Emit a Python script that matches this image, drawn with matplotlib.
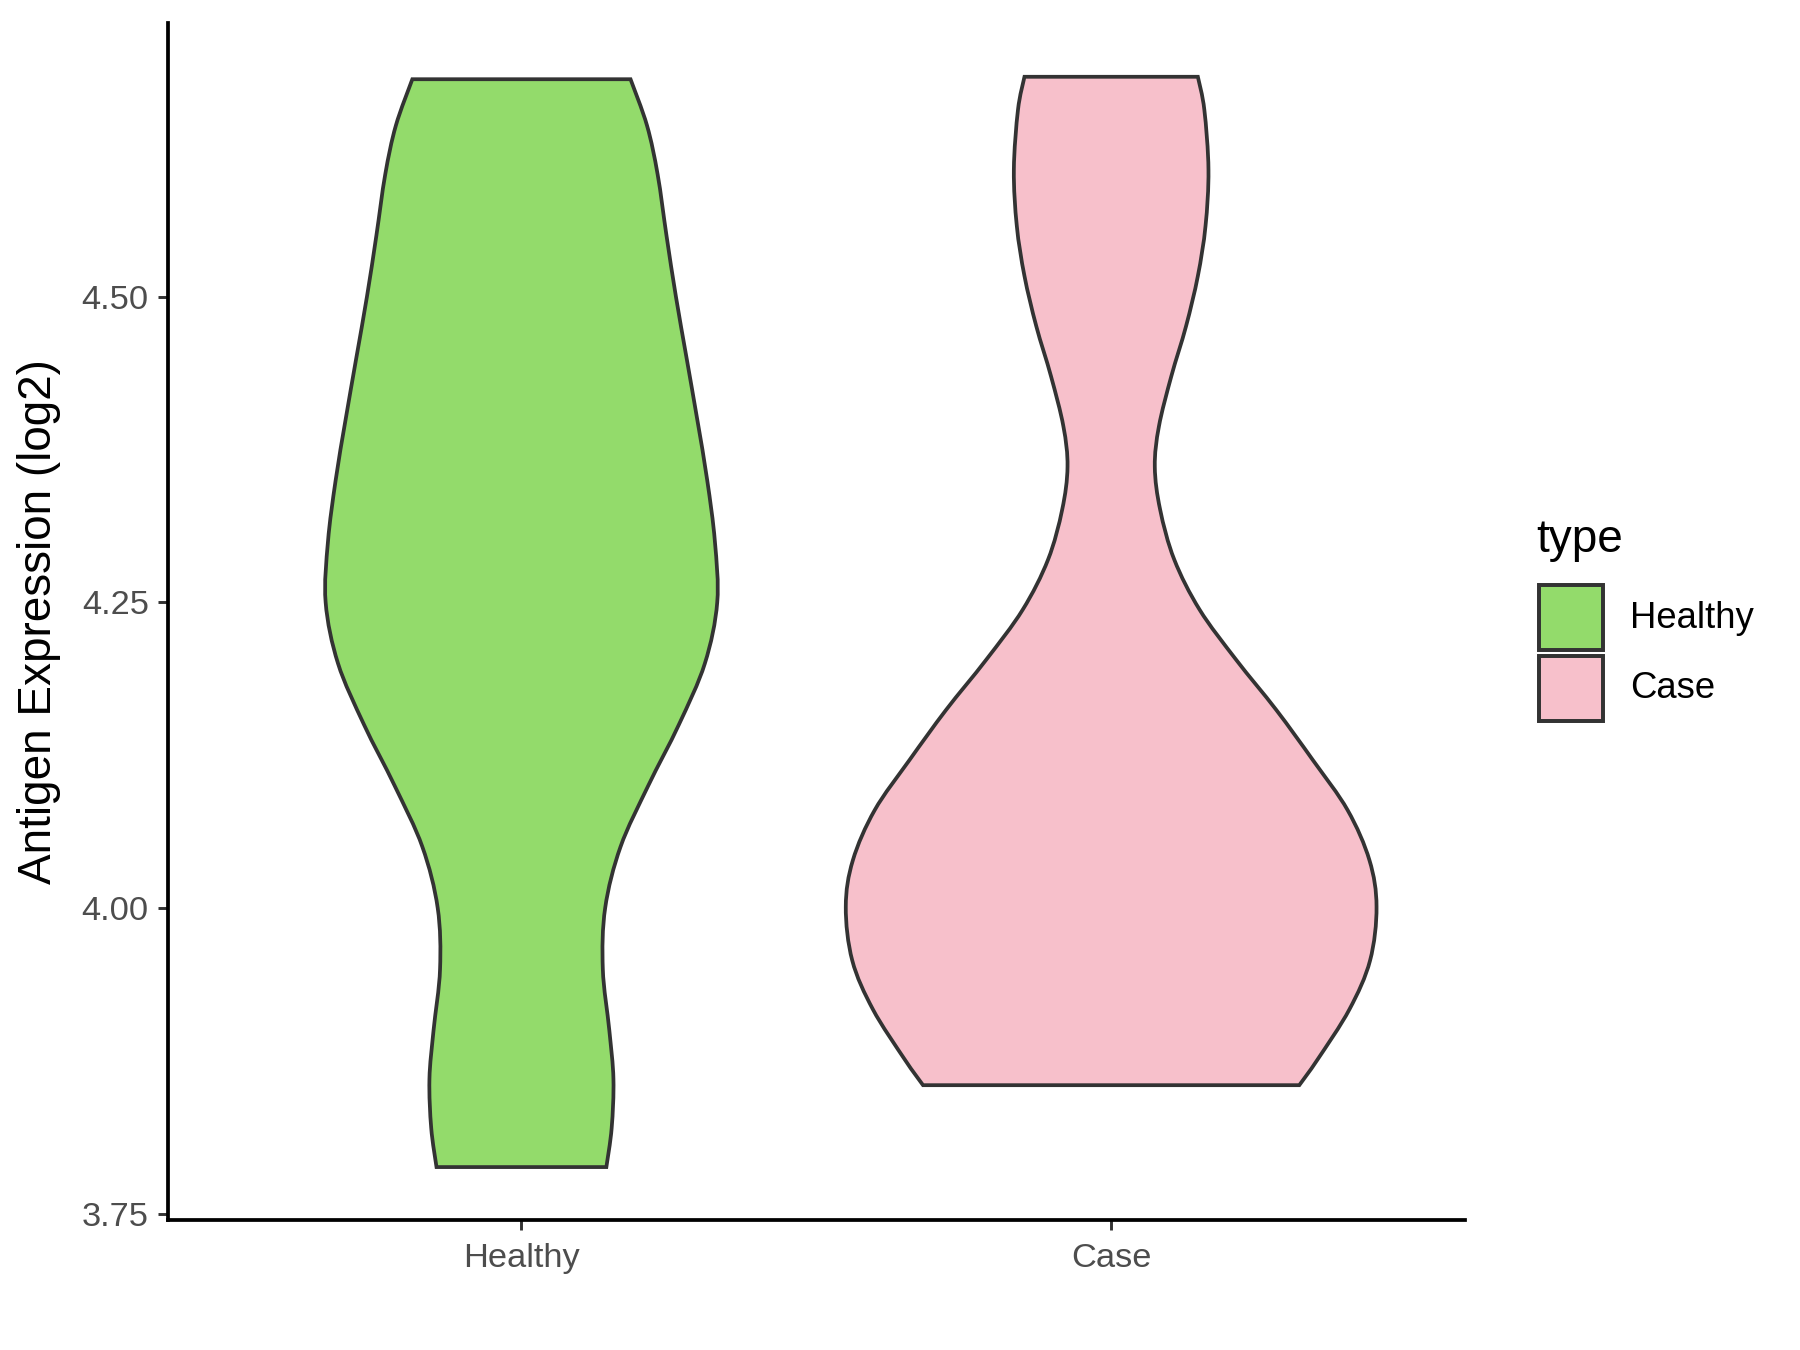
import matplotlib
matplotlib.use("Agg")
import matplotlib.pyplot as plt
from matplotlib.path import Path
from matplotlib.patches import PathPatch, Rectangle

# violin outlines: y level -> half width (x units)
categories = ["Healthy", "Case"]
fill_colors = ["#93DB6B", "#F7C0CB"]

healthy_y = [3.788, 3.82, 3.86, 3.90, 3.95, 4.00, 4.05, 4.10, 4.15, 4.20,
             4.25, 4.30, 4.35, 4.40, 4.45, 4.50, 4.55, 4.60, 4.64, 4.678]
healthy_w = [0.144, 0.153, 0.156, 0.149, 0.138, 0.142, 0.168, 0.215, 0.267, 0.311,
             0.332, 0.328, 0.315, 0.298, 0.280, 0.262, 0.246, 0.231, 0.213, 0.185]

case_y = [3.855, 3.876, 3.917, 3.957, 4.001, 4.039, 4.080, 4.121, 4.162, 4.203,
          4.244, 4.285, 4.326, 4.361, 4.394, 4.435, 4.476, 4.517, 4.558, 4.604,
          4.653, 4.680]
case_w = [0.319, 0.350, 0.404, 0.439, 0.450, 0.438, 0.401, 0.342, 0.280, 0.212,
          0.150, 0.107, 0.083, 0.074, 0.081, 0.102, 0.127, 0.147, 0.160, 0.165,
          0.158, 0.147]

y_ticks = [3.75, 4.00, 4.25, 4.50]

plt.rcParams['font.family'] = ['Liberation Sans', 'DejaVu Sans']


def bezier_side(pts):
    """Catmull-Rom through the points, returned as cubic bezier pieces"""
    verts = []
    n = len(pts)
    for i in range(n - 1):
        p0 = pts[max(i - 1, 0)]
        p1 = pts[i]
        p2 = pts[i + 1]
        p3 = pts[min(i + 2, n - 1)]
        c1 = (p1[0] + (p2[0] - p0[0]) / 6, p1[1] + (p2[1] - p0[1]) / 6)
        c2 = (p2[0] - (p3[0] - p1[0]) / 6, p2[1] - (p3[1] - p1[1]) / 6)
        verts += [c1, c2, p2]
    return verts


def violin_path(center, ys, ws):
    right = [(center + w, y) for y, w in zip(ys, ws)]
    left = [(center - w, y) for y, w in zip(ys, ws)][::-1]
    verts = [right[0]]
    codes = [Path.MOVETO]
    side = bezier_side(right)
    verts += side
    codes += [Path.CURVE4] * len(side)
    verts.append(left[0])
    codes.append(Path.LINETO)
    side = bezier_side(left)
    verts += side
    codes += [Path.CURVE4] * len(side)
    verts.append(right[0])
    codes.append(Path.CLOSEPOLY)
    return Path(verts, codes)


fig = plt.figure(figsize=(12, 9), dpi=150)
ax = fig.add_axes([167.6 / 1800, 1 - 1220 / 1350, (1465 - 167.6) / 1800, (1220 - 23) / 1350])

outlines = [(healthy_y, healthy_w), (case_y, case_w)]
for i, (ys, ws) in enumerate(outlines):
    patch = PathPatch(violin_path(i + 1, ys, ws), facecolor=fill_colors[i],
                      edgecolor="#333333", linewidth=1.8, joinstyle="miter")
    ax.add_patch(patch)

ax.set_xlim(0.4, 2.6)
ax.set_ylim(3.7447, 4.724)
ax.set_xticks([1, 2])
ax.set_xticklabels(categories)
ax.set_yticks(y_ticks)
ax.set_yticklabels(["%.2f" % v for v in y_ticks])
ax.tick_params(axis="both", colors="#333333", length=5, width=1.4,
               labelsize=16.5, labelcolor="#4D4D4D", pad=4)
ax.tick_params(axis="x", pad=6)
for s in ["top", "right"]:
    ax.spines[s].set_visible(False)
for s in ["left", "bottom"]:
    ax.spines[s].set_linewidth(1.8)
    ax.spines[s].set_color("black")
ax.set_ylabel("Antigen Expression (log2)", fontsize=22, color="black", labelpad=10)

# legend drawn by hand on the right
fig.text(1536 / 1800, 1 - 540 / 1350, "type", fontsize=22, va="center", ha="left")
key_tops = [585, 656]
for i, name in enumerate(categories):
    top = key_tops[i]
    fig.patches.append(Rectangle((1539 / 1800, 1 - (top + 65) / 1350), 64 / 1800, 65 / 1350,
                                 transform=fig.transFigure, facecolor=fill_colors[i],
                                 edgecolor="#333333", linewidth=1.9))
    fig.text(1630 / 1800, 1 - (top + 33) / 1350, name, fontsize=17.5, va="center", ha="left")

fig.savefig("out.png", dpi=150, facecolor="white")
